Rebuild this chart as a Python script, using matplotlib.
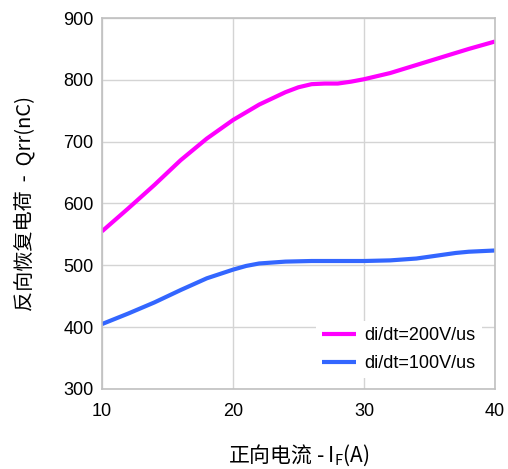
import matplotlib
matplotlib.use('Agg')
import matplotlib.pyplot as plt

# data
x_200=[10,12,14,16,18,20,22,24,25,26,27,28,29,30,32,34,36,38,40]
qrr_200=[555,592,630,670,705,735,760,780,788,793,794,794,797,801,811,824,837,850,862]
x_100=[10,12,14,16,18,20,21,22,24,26,28,30,32,34,35,36,37,38,40]
qrr_100=[405,422,440,460,479,493,499,503,506,507,507,507,508,511,514,517,520,522,524]
xticks=[10,20,30,40]
yticks=[300,400,500,600,700,800,900]

plt.rcParams['font.family']=['Liberation Sans','Noto Sans CJK SC','DejaVu Sans']

fig=plt.figure(figsize=(5.08,4.69),dpi=100)
ax=fig.add_axes([0.2008,0.1706,0.7736,0.791])

ax.plot(x_200,qrr_200,c='#ff00ff',lw=3,label='di/dt=200V/us',solid_capstyle='butt')
ax.plot(x_100,qrr_100,c='#3366ff',lw=3,label='di/dt=100V/us',solid_capstyle='butt')

ax.set_xlim(10,40)
ax.set_ylim(300,900)
ax.set_xticks(xticks)
ax.set_yticks(yticks)
ax.grid(True,color='#d4d4d4',lw=1)
ax.set_axisbelow(True)
for s in ax.spines.values():
    s.set_color('#c0c0c0')
    s.set_linewidth(1.2)
ax.tick_params(length=0,labelsize=13,pad=6)
ax.tick_params(axis='x',pad=10)

ax.set_xlabel('正向电流 - I$_\\mathregular{F}$(A)',fontsize=15,
              family=['Noto Sans CJK SC','Liberation Sans'],labelpad=16)
ax.set_ylabel('反向恢复电荷  -  Qrr(nC)',fontsize=14.5,
              family=['Noto Sans CJK SC','Liberation Sans'],labelpad=20)
ax.xaxis.label.set_fontweight('light')
ax.yaxis.label.set_fontweight('light')

leg=ax.legend(loc='lower right',bbox_to_anchor=(0.99,0.004),frameon=True,
              fontsize=13,handlelength=1.9,handletextpad=0.45,borderpad=0.35,
              labelspacing=0.6,fancybox=False)
leg.get_frame().set_edgecolor('none')
leg.get_frame().set_facecolor('white')
leg.get_frame().set_alpha(1)

fig.savefig('out.png',dpi=100)
